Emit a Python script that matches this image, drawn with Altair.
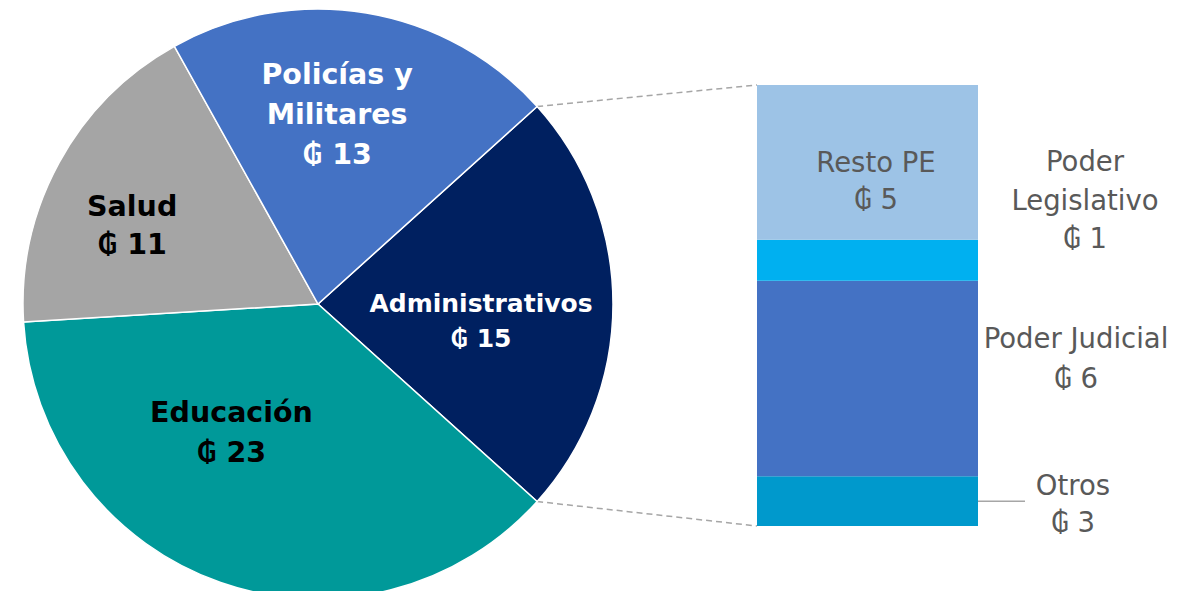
import math
import altair as alt
import pandas as pd

# ---- data ----
pie_cats = ["Administrativos", "Educación", "Salud", "Policías y Militares"]
pie_values = [14.5, 23.2, 11.1, 13.3]
pie_labels = ["Administrativos\n₲ 15", "Educación\n₲ 23", "Salud\n₲ 11", "Policías y\nMilitares\n₲ 13"]
pie_colors = ["#002060", "#009999", "#A5A5A5", "#4472C4"]
pie_text_colors = ["#FFFFFF", "#000000", "#000000", "#FFFFFF"]

bar_cats = ["Otros", "Poder Judicial", "Poder Legislativo", "Resto PE"]
bar_values = [1.7, 6.7, 1.4, 5.3]
bar_labels = ["Otros\n₲ 3", "Poder Judicial\n₲ 6", "Poder\nLegislativo\n₲ 1", "Resto PE\n₲ 5"]
bar_colors = ["#0099CC", "#4472C4", "#00B0F0", "#9DC3E6"]

# ---- layout (pixels) ----
W, H = 1167, 583
CX, CY, R = 310, 296, 295
BAR_X0, BAR_X1 = 749, 970
BAR_BOTTOM, BAR_TOP = 518, 77
GRAY = "#595959"
LINE_GRAY = "#A6A6A6"

pie_total = sum(pie_values)
admin_span = pie_values[0] / pie_total * 2 * math.pi
start = math.pi / 2 - admin_span / 2

pie_df = pd.DataFrame({"cat": pie_cats, "value": pie_values, "label": pie_labels,
                       "ord": list(range(len(pie_cats)))})
bar_df = pd.DataFrame({"cat": bar_cats, "value": bar_values, "label": bar_labels,
                       "ord": list(range(len(bar_cats)))})

color_scale = alt.Scale(domain=pie_cats + bar_cats, range=pie_colors + bar_colors)
theta_scale = alt.Scale(domain=[0, pie_total], range=[start, start + 2 * math.pi])
y_scale = alt.Scale(domain=[0, sum(bar_values)], range=[BAR_BOTTOM, BAR_TOP], nice=False, zero=False)

pie_base = alt.Chart(pie_df).transform_stack(
    stack="value", groupby=[], as_=["t0", "t1"], sort=[alt.SortField("ord")]
).transform_calculate(mid="(datum.t0 + datum.t1) / 2")

bar_base = alt.Chart(bar_df).transform_stack(
    stack="value", groupby=[], as_=["y0", "y1"], sort=[alt.SortField("ord")]
).transform_calculate(mid="(datum.y0 + datum.y1) / 2")

arcs = pie_base.mark_arc(x=CX, y=CY, outerRadius=R, stroke="white", strokeWidth=1.5).encode(
    theta=alt.Theta("t0:Q", scale=theta_scale),
    theta2="t1:Q",
    color=alt.Color("cat:N", scale=color_scale, legend=None),
)

pie_label_pos = {
    "Administrativos": dict(radius=163, dx=0, dy=0, lh=35, fs=25),
    "Educación": dict(radius=150, dx=-37, dy=-33, lh=40, fs=28.5),
    "Salud": dict(radius=205, dx=-6, dy=1, lh=38, fs=28.5),
    "Policías y Militares": dict(radius=190, dx=-12, dy=-42, lh=40, fs=28.5),
}
pie_texts = []
for cat, tcol in zip(pie_cats, pie_text_colors):
    p = pie_label_pos[cat]
    pie_texts.append(
        pie_base.transform_filter(alt.datum.cat == cat).mark_text(
            x=CX, y=CY, radius=p["radius"], dx=p["dx"], dy=p["dy"], lineBreak="\n",
            lineHeight=p["lh"], font="DejaVu Sans", fontWeight="bold", fontSize=p["fs"],
            color=tcol, align="center", baseline="middle",
        ).encode(theta=alt.Theta("mid:Q", scale=theta_scale), text="label:N")
    )

bars = bar_base.mark_rect().encode(
    y=alt.Y("y0:Q", scale=y_scale, axis=None),
    y2="y1:Q",
    x=alt.value(BAR_X0),
    x2=alt.value(BAR_X1),
    color=alt.Color("cat:N", scale=color_scale, legend=None),
)

bar_label_pos = {
    "Resto PE": dict(x=868, dy=2, lh=37),
    "Poder Legislativo": dict(x=1077, dy=-97, lh=38.5),
    "Poder Judicial": dict(x=1068, dy=-39, lh=40),
    "Otros": dict(x=1065, dy=-14, lh=37),
}
bar_texts = []
for cat in bar_cats:
    p = bar_label_pos[cat]
    bar_texts.append(
        bar_base.transform_filter(alt.datum.cat == cat).mark_text(
            dy=p["dy"], lineBreak="\n", lineHeight=p["lh"], font="DejaVu Sans",
            fontSize=27.5, color=GRAY, align="center", baseline="middle",
        ).encode(y=alt.Y("mid:Q", scale=y_scale, axis=None), x=alt.value(p["x"]), text="label:N")
    )

leader = bar_base.transform_filter(alt.datum.cat == "Otros").mark_rule(
    color=LINE_GRAY, strokeWidth=1.5
).encode(y=alt.Y("mid:Q", scale=y_scale, axis=None), x=alt.value(BAR_X1), x2=alt.value(BAR_X1 + 47))

# dashed connectors from the Administrativos wedge edge to the bar corners
a_top = start
a_bot = start + admin_span
px_top = CX + R * math.sin(a_top)
py_top = CY - R * math.cos(a_top)
px_bot = CX + R * math.sin(a_bot)
py_bot = CY - R * math.cos(a_bot)
one = pd.DataFrame({"k": [0]})
conn_top = alt.Chart(one).mark_rule(color=LINE_GRAY, strokeWidth=1.5, strokeDash=[6, 4]).encode(
    x=alt.value(px_top), y=alt.value(py_top), x2=alt.value(BAR_X0), y2=alt.value(BAR_TOP))
conn_bot = alt.Chart(one).mark_rule(color=LINE_GRAY, strokeWidth=1.5, strokeDash=[6, 4]).encode(
    x=alt.value(px_bot), y=alt.value(py_bot), x2=alt.value(BAR_X0), y2=alt.value(BAR_BOTTOM))

chart = alt.layer(
    conn_top, conn_bot, arcs, *pie_texts, bars, leader, *bar_texts
).properties(
    width=W, height=H, padding=0, autosize=alt.AutoSizeParams(type="none")
).configure_view(stroke=None)

chart.save("out.html", embed_options={"renderer": "svg", "actions": False})
